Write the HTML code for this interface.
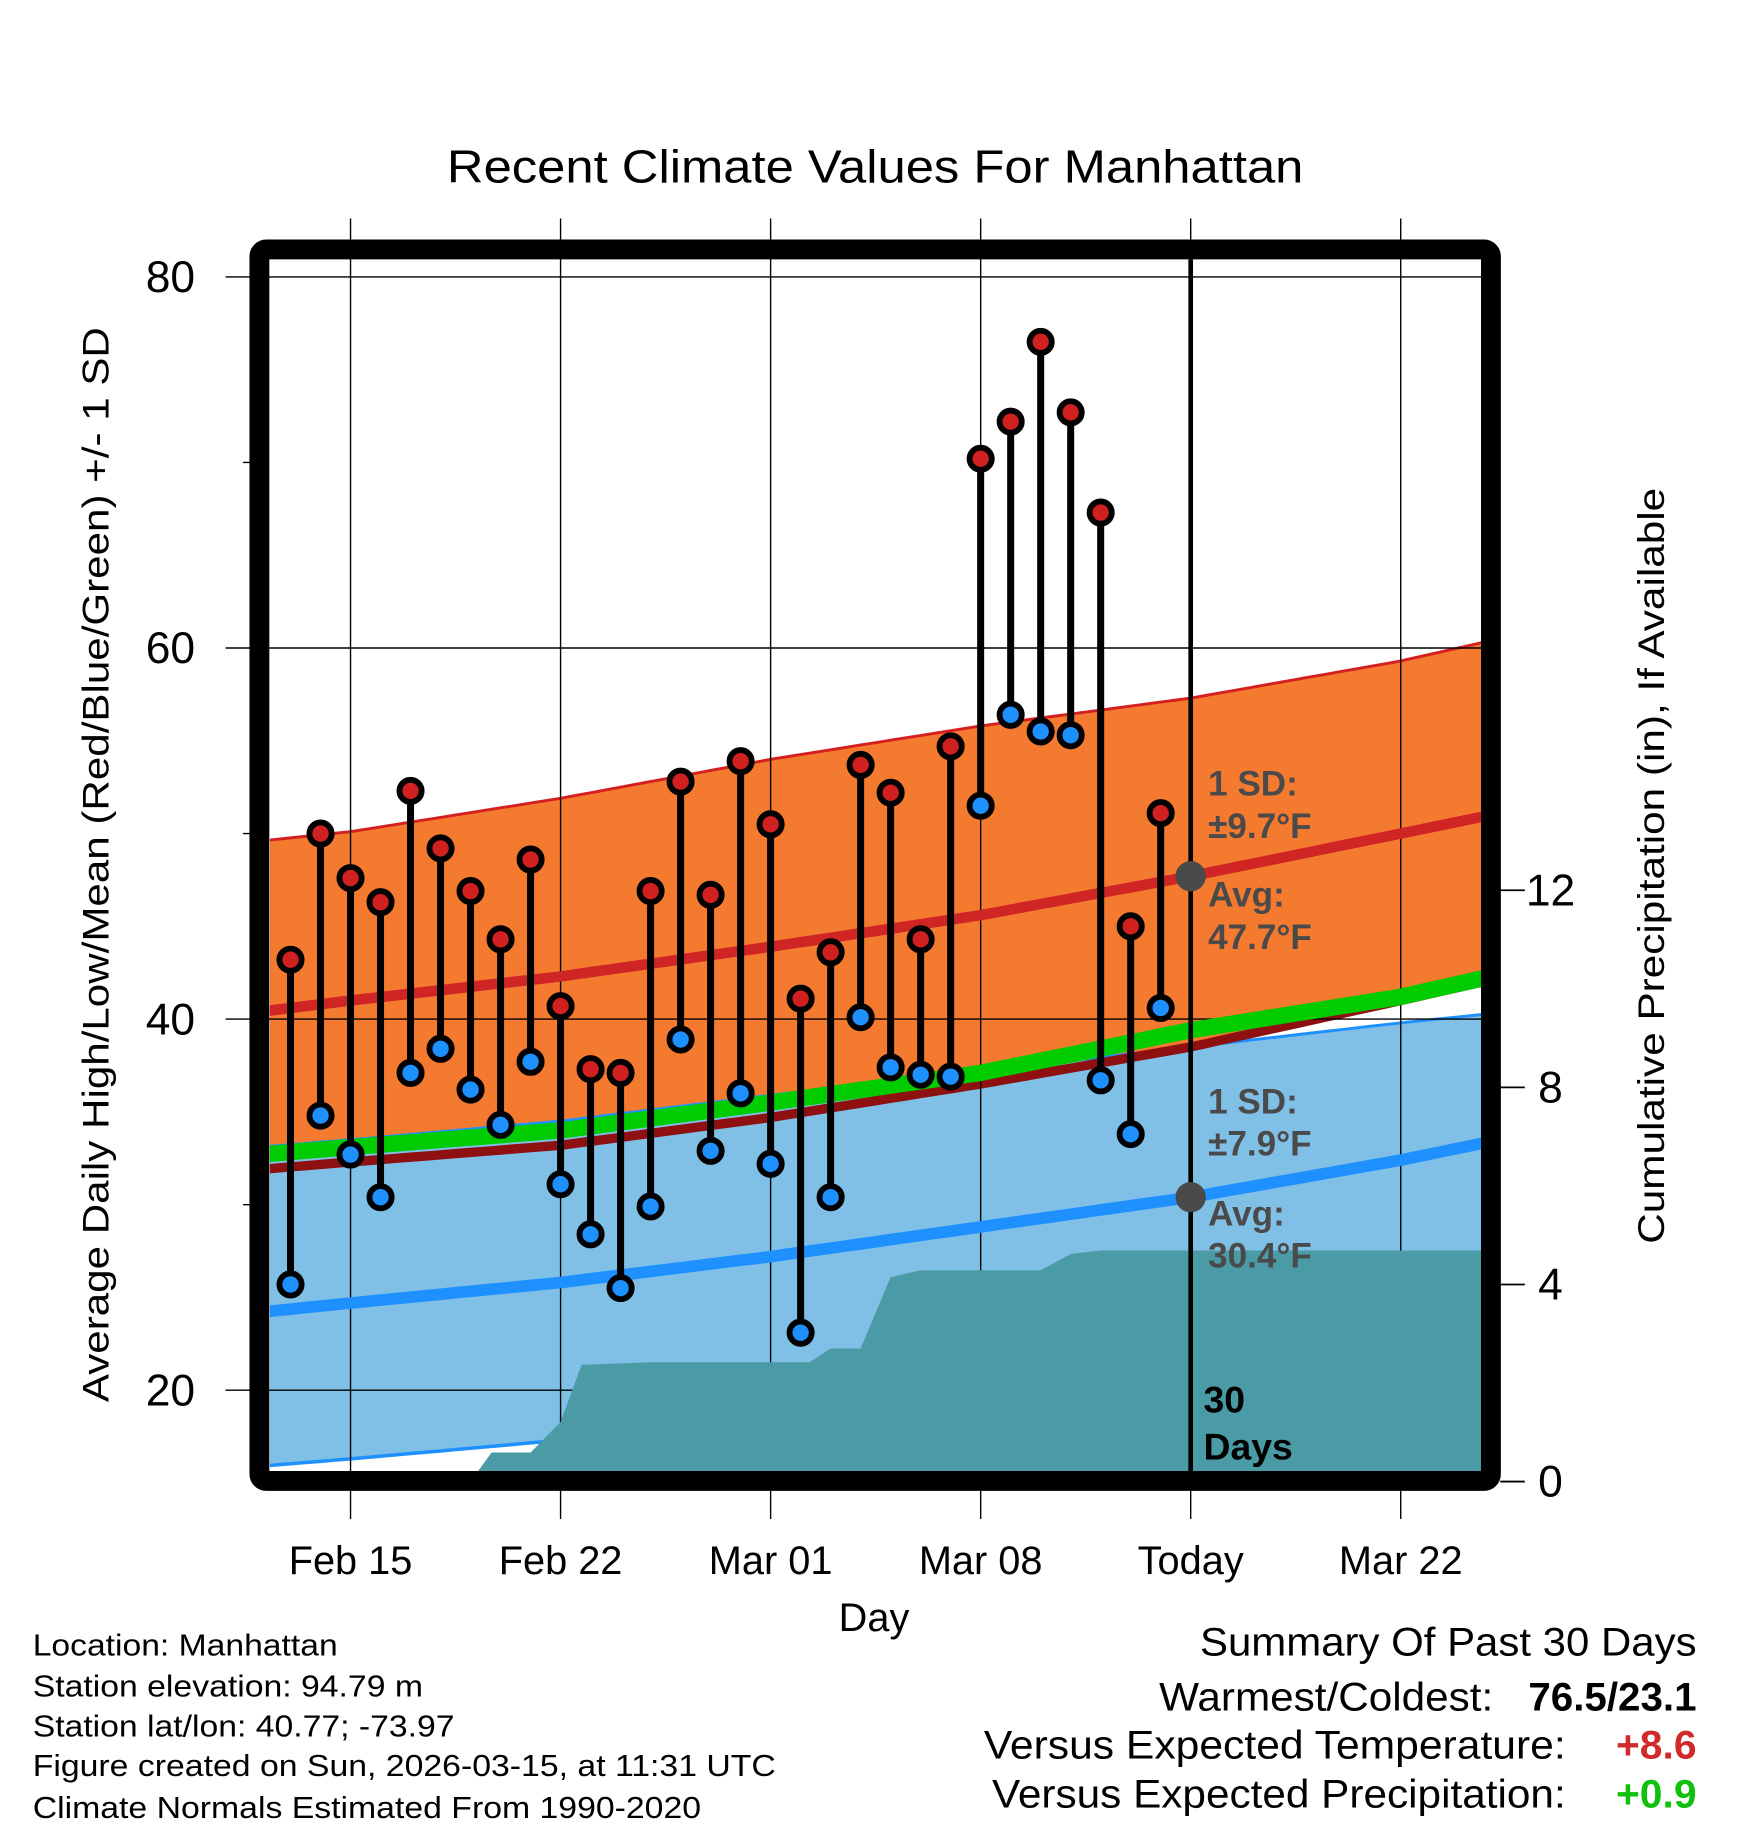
<!DOCTYPE html>
<html><head><meta charset="utf-8">
<style>
html,body{margin:0;padding:0;background:#fff;}
svg{display:block;font-family:"Liberation Sans",Arial,sans-serif;}
</style></head>
<body>
<svg id="chart" width="1748" height="1828" viewBox="0 0 1496 1564.5" preserveAspectRatio="none" xmlns="http://www.w3.org/2000/svg">
<defs><clipPath id="plotclip"><rect x="231" y="222" width="1037" height="1037"/></clipPath></defs>
<rect x="0" y="0" width="1496" height="1565" fill="#fff"/>
<text x="749" y="156" font-size="40" text-anchor="middle" textLength="733" lengthAdjust="spacingAndGlyphs">Recent Climate Values For Manhattan</text>
<g id="bands" clip-path="url(#plotclip)"></g>
<g id="grid"></g>
<g id="precip" clip-path="url(#plotclip)"></g>
<g id="lines" clip-path="url(#plotclip)"></g>
<g id="marks"></g>
<g id="annot"></g>
<rect x="222" y="213.5" width="1054" height="1054" rx="6" fill="none" stroke="#000" stroke-width="17"/>
<g id="axes"></g>
<text transform="translate(93,740) rotate(-90)" font-size="32" text-anchor="middle" textLength="920" lengthAdjust="spacingAndGlyphs">Average Daily High/Low/Mean (Red/Blue/Green) +/- 1 SD</text>
<text transform="translate(1424,741) rotate(-90)" font-size="32" text-anchor="middle" textLength="647" lengthAdjust="spacingAndGlyphs">Cumulative Precipitation (in), If Available</text>
<text x="748" y="1396" font-size="34" text-anchor="middle">Day</text>
<g font-size="26">
<text x="28" y="1417" textLength="261" lengthAdjust="spacingAndGlyphs">Location: Manhattan</text>
<text x="28" y="1452" textLength="334" lengthAdjust="spacingAndGlyphs">Station elevation: 94.79 m</text>
<text x="28" y="1486" textLength="361" lengthAdjust="spacingAndGlyphs">Station lat/lon: 40.77; -73.97</text>
<text x="28" y="1520" textLength="636" lengthAdjust="spacingAndGlyphs">Figure created on Sun, 2026-03-15, at 11:31 UTC</text>
<text x="28" y="1556" textLength="572" lengthAdjust="spacingAndGlyphs">Climate Normals Estimated From 1990-2020</text>
</g>
<g font-size="34">
<text x="1452" y="1417" text-anchor="end" textLength="425" lengthAdjust="spacingAndGlyphs">Summary Of Past 30 Days</text>
<text x="1278" y="1464" text-anchor="end" textLength="286" lengthAdjust="spacingAndGlyphs">Warmest/Coldest:</text>
<text x="1452" y="1464" text-anchor="end" font-weight="bold" textLength="144" lengthAdjust="spacingAndGlyphs">76.5/23.1</text>
<text x="1340" y="1505" text-anchor="end" textLength="498" lengthAdjust="spacingAndGlyphs">Versus Expected Temperature:</text>
<text x="1452" y="1505" text-anchor="end" font-weight="bold" fill="#d12a2a" textLength="69" lengthAdjust="spacingAndGlyphs">+8.6</text>
<text x="1340" y="1547" text-anchor="end" textLength="491" lengthAdjust="spacingAndGlyphs">Versus Expected Precipitation:</text>
<text x="1452" y="1547" text-anchor="end" font-weight="bold" fill="#0fc00f" textLength="69" lengthAdjust="spacingAndGlyphs">+0.9</text>
</g>
</svg>
<script>
// ---- data ----
const obsDays = [-2,-1,0,1,2,3,4,5,6,7,8,9,10,11,12,13,14,15,16,17,18,19,20,21,22,23,24,25,26,27];
const highs = [43.2,50.0,47.6,46.3,52.3,49.2,46.9,44.3,48.6,40.7,37.3,37.1,46.9,52.8,46.7,53.9,50.5,41.1,43.6,53.7,52.2,44.3,54.7,70.2,72.2,76.5,72.7,67.3,45.0,51.1];
const lows = [25.7,34.8,32.7,30.4,37.1,38.4,36.2,34.3,37.7,31.1,28.4,25.5,29.9,38.9,32.9,36.0,32.2,23.1,30.4,40.1,37.4,37.0,36.9,51.5,56.4,55.5,55.3,36.7,33.8,40.6];
const normDays = [-3,0,7,14,21,28,35,38];
const hiMean = [40.4,41.0,42.3,43.9,45.6,47.7,50.0,51.0];
const hiUpper = [49.6,50.1,51.9,54.0,55.8,57.3,59.3,60.4];
const hiLower = [31.9,32.3,33.2,34.7,36.5,38.5,41.0,42.1];
const loMean = [24.2,24.7,25.8,27.2,28.8,30.4,32.4,33.4];
const loUpper = [33.1,33.5,34.5,35.9,37.2,38.5,39.8,40.3];
const loLower = [15.9,16.3,17.3,18.6,20.0,22.3,24.6,25.6];
const allMean = [32.7,33.1,34.0,35.5,37.1,39.4,41.2,42.3];
const precipDays = [4.0,4.7,6.0,7.0,7.7,10.0,15.3,16.0,17.0,18.0,19.0,23.0,24.0,25.0,38];
const precipVals = [0,0.59,0.59,1.21,2.37,2.42,2.42,2.70,2.70,4.15,4.29,4.29,4.62,4.69,4.69];
const xTickDays = [0,7,14,21,28,35];
const xTickLabels = ["Feb 15","Feb 22","Mar 01","Mar 08","Today","Mar 22"];
const yTicks = [20,40,60,80];
const yMinor = [30,50,70];
const pTicks = [0,4,8,12];

// ---- scales ----
const X = d => 300 + d*25.68;
const Y = v => 237 + (80-v)*15.88;
const P = v => 1268 - v*42.17;
const NS = "http://www.w3.org/2000/svg";
function mk(tag, attrs, parent){const e=document.createElementNS(NS,tag);for(const k in attrs)e.setAttribute(k,attrs[k]);parent.appendChild(e);return e;}
function interp(xs, ys, d){if(d<=xs[0])return ys[0];for(let i=1;i<xs.length;i++){if(d<=xs[i]){const t=(d-xs[i-1])/(xs[i]-xs[i-1]);return ys[i-1]+t*(ys[i]-ys[i-1]);}}return ys[ys.length-1];}
const sample=[];for(let d=-3;d<=38.01;d+=0.5)sample.push(d);
function curve(arr){return sample.map(d=>X(d).toFixed(1)+","+Y(interp(normDays,arr,d)).toFixed(1));}
function band(up,lo){return "M"+curve(up).join(" L")+" L"+curve(lo).reverse().join(" L")+" Z";}

const bands=document.getElementById('bands');
let e;
e=mk('path',{d:band(hiUpper,hiLower),fill:'#f47a30'},bands);


e=mk('path',{d:"M"+curve(hiUpper).join(" L"),fill:'none',stroke:'#d42020','stroke-width':2.5},bands);


e=mk('path',{d:band(loUpper,loLower),fill:'#80c0e6'},bands);


e=mk('path',{d:"M"+curve(loUpper).join(" L"),fill:'none',stroke:'#1e90ff','stroke-width':2.5},bands);


e=mk('path',{d:"M"+curve(loLower).join(" L"),fill:'none',stroke:'#1e90ff','stroke-width':3},bands);


e=mk('path',{d:"M"+curve(hiLower).join(" L"),fill:'none',stroke:'#8e1010','stroke-width':8},bands);



// grid
const grid=document.getElementById('grid');
yTicks.forEach(v=>{e=mk('line',{x1:193,x2:1268,y1:Y(v),y2:Y(v),stroke:'#000','stroke-width':1.2},grid);

});
yMinor.forEach(v=>{e=mk('line',{x1:208,x2:222,y1:Y(v),y2:Y(v),stroke:'#000','stroke-width':1.2},grid);

});
xTickDays.forEach(d=>{e=mk('line',{x1:X(d),x2:X(d),y1:187,y2:1300,stroke:'#000','stroke-width':1.2},grid);

});

// precip
const pg=document.getElementById('precip');
let pd="M"+X(precipDays[0])+","+P(0);
precipDays.forEach((d,i)=>{pd+=" L"+X(d).toFixed(1)+","+P(precipVals[i]).toFixed(1);});
pd+=" L"+X(precipDays[precipDays.length-1])+","+P(0)+" Z";
e=mk('path',{d:pd,fill:'#4a9ba5'},pg);



// mean lines
const lg=document.getElementById('lines');
e=mk('path',{d:"M"+curve(hiMean).join(" L"),fill:'none',stroke:'#d02525','stroke-width':9},lg);


e=mk('path',{d:"M"+curve(loMean).join(" L"),fill:'none',stroke:'#1e90ff','stroke-width':10},lg);


e=mk('path',{d:"M"+curve(allMean).join(" L"),fill:'none',stroke:'#00cc00','stroke-width':14},lg);



// today line
e=mk('line',{x1:X(28),x2:X(28),y1:222,y2:1262,stroke:'#000','stroke-width':4},lg);



// marks
const mg=document.getElementById('marks');
obsDays.forEach((d,i)=>{
  const x=X(d);
  e=mk('line',{x1:x,x2:x,y1:Y(highs[i]),y2:Y(lows[i]),stroke:'#000','stroke-width':6},mg);
  
  
});
obsDays.forEach((d,i)=>{
  const x=X(d);
  e=mk('circle',{cx:x,cy:Y(highs[i]),r:9.5,fill:'#d02020',stroke:'#000','stroke-width':5},mg);
  
  
  e=mk('circle',{cx:x,cy:Y(lows[i]),r:9.5,fill:'#1e90ff',stroke:'#000','stroke-width':5},mg);
  
  
});

// annotations
const ag=document.getElementById('annot');
const tx=X(28);
e=mk('circle',{cx:tx,cy:Y(interp(normDays,hiMean,28)),r:13,fill:'#4a4a4a'},ag);


e=mk('circle',{cx:tx,cy:Y(interp(normDays,loMean,28)),r:13,fill:'#4a4a4a'},ag);


const annos=[["1 SD:",681,'high-sd-label'],["±9.7°F",717,'high-sd-value'],["Avg:",776,'high-avg-label'],["47.7°F",812,'high-avg-value'],
 ["1 SD:",953,'low-sd-label'],["±7.9°F",989,'low-sd-value'],["Avg:",1049,'low-avg-label'],["30.4°F",1085,'low-avg-value']];
annos.forEach(a=>{
  e=mk('text',{x:1034,y:a[1],'font-size':30,'font-weight':'bold',fill:'#4a4a4a'},ag);
  e.textContent=a[0];
  
  
});
e=mk('text',{x:1030,y:1209,'font-size':32,'font-weight':'bold',fill:'#000'},ag);e.textContent="30";


e=mk('text',{x:1030,y:1249,'font-size':32,'font-weight':'bold',fill:'#000'},ag);e.textContent="Days";



// axes labels
const ax=document.getElementById('axes');
yTicks.forEach(v=>{e=mk('text',{x:167,y:Y(v)+13,'font-size':38,'text-anchor':'end'},ax);e.textContent=v;

});
xTickDays.forEach((d,i)=>{e=mk('text',{x:X(d),y:1347,'font-size':34,'text-anchor':'middle'},ax);e.textContent=xTickLabels[i];

});
pTicks.forEach(v=>{
  e=mk('line',{x1:1284,x2:1305,y1:P(v),y2:P(v),stroke:'#000','stroke-width':1.5},ax);
  
  
  e=mk('text',{x:1327,y:P(v)+13,'font-size':38,'text-anchor':'middle'},ax);e.textContent=v;
  
  
});
</script>
</body></html>
